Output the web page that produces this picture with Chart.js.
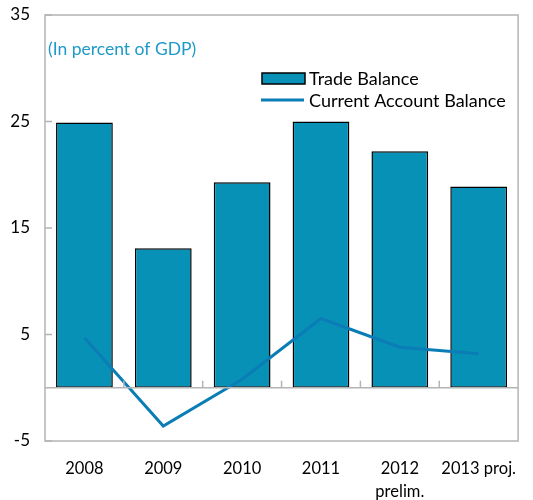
<!DOCTYPE html>
<html>
<head>
<meta charset="utf-8">
<script src="https://cdn.jsdelivr.net/npm/chart.js@4.4.0/dist/chart.umd.min.js"></script>
<style>
  html, body { margin: 0; padding: 0; background: #fff; }
  #wrap { width: 533px; height: 500px; }
</style>
</head>
<body>
<div id="wrap"><canvas id="myChart" width="533" height="500"></canvas></div>
<script>
// data
const years = ['2008', '2009', '2010', '2011', ['2012', 'prelim.'], '2013 proj.'];
const tradeBalance = [24.9, 13.1, 19.3, 25.0, 22.2, 18.9];
const currentAccount = [4.7, -3.6, 0.8, 6.5, 3.8, 3.2];
const yTicks = [-5, 5, 15, 25, 35];

const FONT = 'Lato, "Open Sans", sans-serif';
const GREY = '#b4b4b4';
const BAR = '#0891b6';
const LINE = '#0b7db6';

// frame, zero line, inward ticks, note and legend
const decor = {
  id: 'decor',
  afterDatasetsDraw(chart) {
    const c = chart.ctx;
    const a = chart.chartArea;
    const x = chart.scales.x;
    const y = chart.scales.y;
    c.save();
    c.strokeStyle = GREY;
    c.lineWidth = 1.5;
    c.strokeRect(a.left, a.top, a.right - a.left, a.bottom - a.top);

    const y0 = y.getPixelForValue(0);
    c.beginPath();
    c.moveTo(a.left, y0);
    c.lineTo(a.right, y0);
    yTicks.forEach(v => {
      const py = y.getPixelForValue(v);
      c.moveTo(a.left, py);
      c.lineTo(a.left + 7, py);
    });
    for (let i = 1; i < years.length; i++) {
      const px = (x.getPixelForValue(i - 1) + x.getPixelForValue(i)) / 2;
      c.moveTo(px, y0);
      c.lineTo(px, y0 - 7);
    }
    c.stroke();

    c.font = '17.5px ' + FONT;
    c.fillStyle = '#1e9ac8';
    c.textBaseline = 'middle';
    c.textAlign = 'left';
    c.fillText('(In percent of GDP)', a.left + 3, 49);

    // legend
    c.fillStyle = BAR;
    c.fillRect(262, 73, 43, 11);
    c.strokeStyle = '#000';
    c.lineWidth = 1.5;
    c.strokeRect(262, 73, 43, 11);
    c.strokeStyle = LINE;
    c.lineWidth = 3;
    c.beginPath();
    c.moveTo(261, 100);
    c.lineTo(304, 100);
    c.stroke();
    c.font = '18px ' + FONT;
    c.fillStyle = '#000';
    c.fillText(chart.data.datasets[1].label, 309, 79);
    c.fillText(chart.data.datasets[0].label, 309, 101);
    c.restore();
  }
};

const ctx = document.getElementById('myChart');

new Chart(ctx, {
  type: 'bar',
  data: {
    labels: years,
    datasets: [
      {
        type: 'line',
        label: 'Current Account Balance',
        data: currentAccount,
        borderColor: LINE,
        borderWidth: 3,
        pointRadius: 0,
        tension: 0,
        fill: false,
        order: 0
      },
      {
        type: 'bar',
        label: 'Trade Balance',
        data: tradeBalance,
        backgroundColor: BAR,
        borderColor: '#000',
        borderWidth: 1.5,
        borderSkipped: false,
        categoryPercentage: 0.72,
        barPercentage: 1,
        order: 1
      }
    ]
  },
  options: {
    responsive: false,
    animation: false,
    layout: { padding: { top: 15, right: 12, left: 0, bottom: 0 } },
    plugins: {
      legend: { display: false },
      tooltip: { enabled: false }
    },
    scales: {
      x: {
        grid: { display: false, drawTicks: false },
        border: { display: false },
        ticks: {
          color: '#000',
          padding: 16,
          maxRotation: 0,
          autoSkip: false,
          font: { family: FONT, size: 16.5, lineHeight: 1.4 }
        },
        afterFit(scale) { scale.height = 59; }
      },
      y: {
        min: -5,
        max: 35,
        grid: { display: false, drawTicks: false },
        border: { display: false },
        ticks: {
          stepSize: 10,
          color: '#000',
          padding: 15,
          font: { family: FONT, size: 17 }
        },
        afterBuildTicks(scale) { scale.ticks = yTicks.map(v => ({ value: v })); },
        afterFit(scale) {
          scale.width = 45;
          scale.paddingTop = 0;
          scale.paddingBottom = 0;
        }
      }
    }
  },
  plugins: [decor]
});
</script>
</body>
</html>
